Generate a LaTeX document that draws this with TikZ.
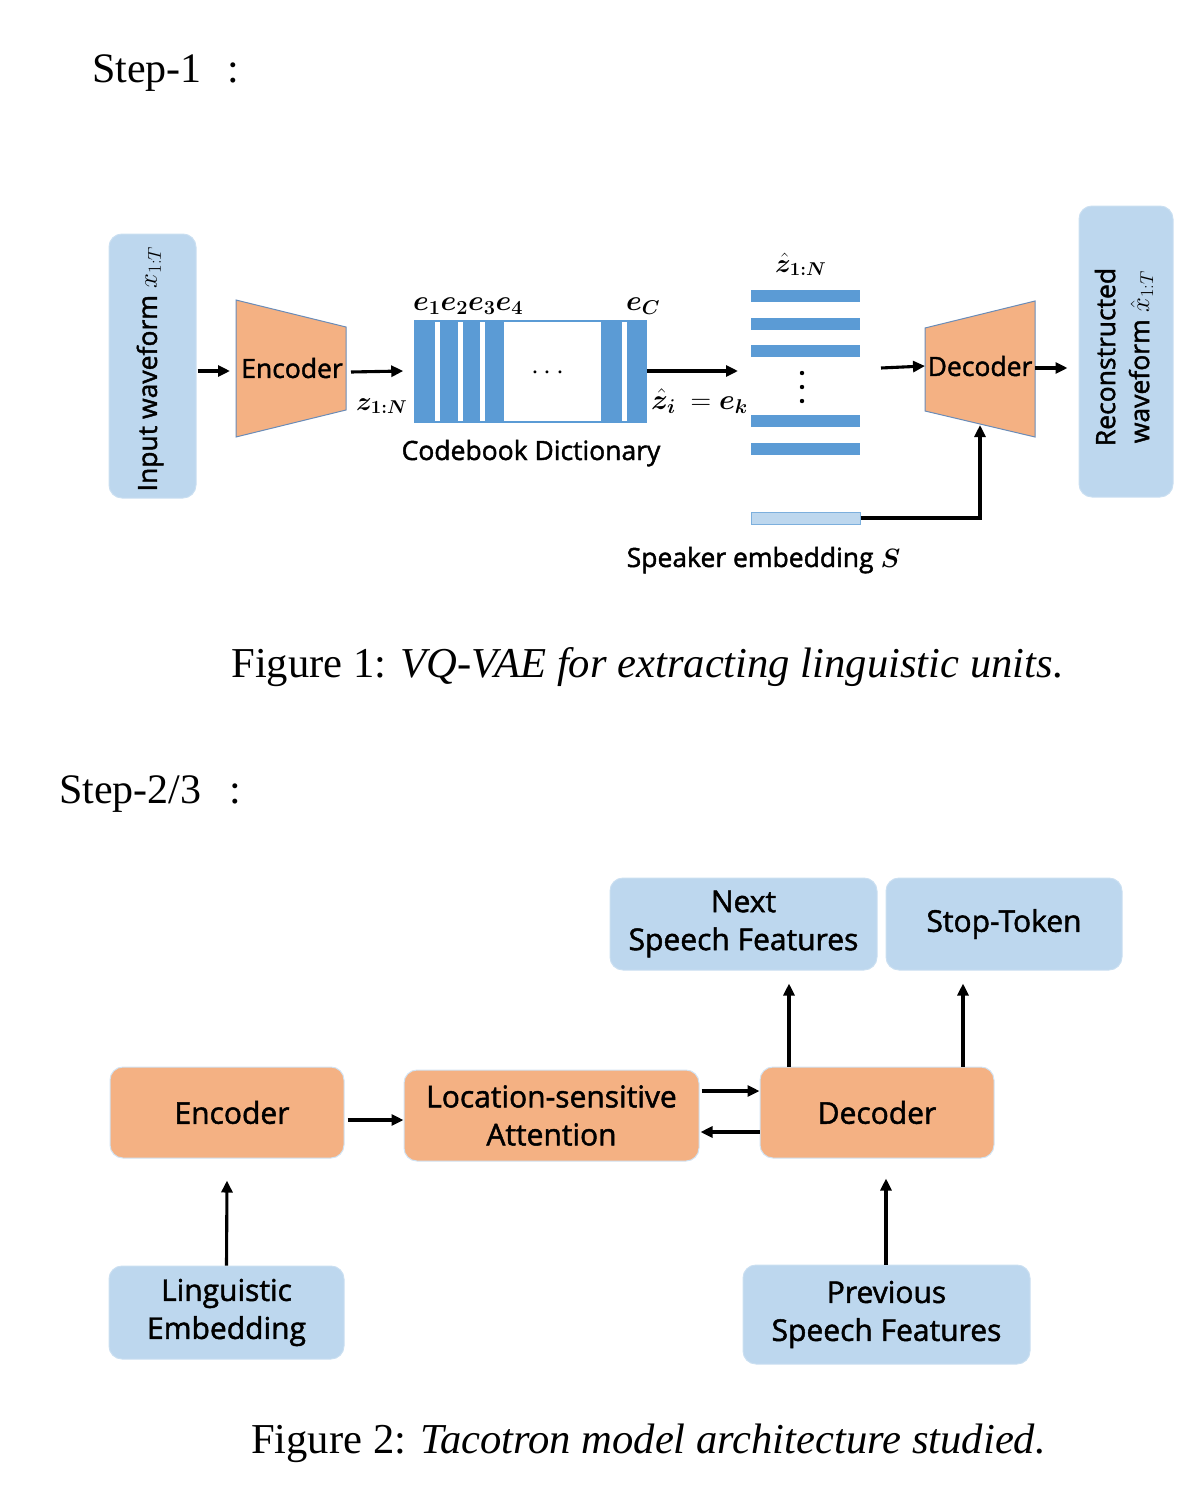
\RequirePackage{fix-cm}
\documentclass[tikz,border=0pt]{standalone}
\usepackage{amsmath}
\usepackage{bm}
\usepackage{fontspec}
\setmainfont{Liberation Serif}
\setsansfont{Open Sans}[FakeBold=1.6]
\usetikzlibrary{arrows.meta,calc}
\definecolor{lblue}{HTML}{BDD7EE}
\definecolor{orng}{HTML}{F4B183}
\definecolor{bblue}{HTML}{5B9BD5}
\definecolor{edgec}{HTML}{6A8CB8}
\begin{document}
\begin{tikzpicture}[x=1pt,y=-1pt,
  arr/.style={line width=3.1pt,-{Triangle[length=12pt,width=11pt]}},
  sfa/.style={font=\sffamily\fontsize{26.5}{32}\selectfont},
  sfb/.style={font=\sffamily\fontsize{30}{38}\selectfont},
  mth/.style={font=\fontsize{28.5}{32}\selectfont},
  mthb/.style={font=\fontsize{26.5}{30}\selectfont},
  serif/.style={font=\rmfamily\fontsize{42}{48}\selectfont},
  captext/.style={font=\rmfamily\fontsize{42.6}{48}\selectfont},
  bluebox/.style={rounded corners=13pt,fill=lblue,draw=lblue!80!white,line width=1pt,inner sep=0pt,align=center},
  orbox/.style={rounded corners=13pt,fill=orng,draw=lblue!70!white,line width=1pt,inner sep=0pt,align=center},
  trap/.style={fill=orng,draw=edgec,line width=1pt},
  bar/.style={fill=bblue,draw=none},
]
\useasboundingbox (0,0) rectangle (1198,1496);

% ---------- Step 1 ----------
\node[serif,anchor=base west,inner sep=0pt] (s1) at (92,82) {Step-1\hspace{26pt}:};

\node[bluebox,minimum width=87pt,minimum height=264pt] (inbox) at (152.5,366) {};
\node[sfa,rotate=90,inner sep=0pt] (intext) at (150,369) {Input waveform $x_{1:T}$};

\draw[trap] (236,300) -- (346,327) -- (346,410) -- (236,437) -- cycle;
\node[sfa,inner sep=0pt] (enc1) at (292,368) {Encoder};
\coordinate (encin) at (230,371);
\coordinate (encout) at (351,372);

% codebook
\node[draw=bblue,line width=1.5pt,fill=white,minimum width=231pt,minimum height=101pt,inner sep=0pt] (cb) at (530.5,371.5) {};
\fill[bar] (415,321) rectangle (434.5,422);
\fill[bar] (440,321) rectangle (458,422);
\fill[bar] (463,321) rectangle (480,422);
\fill[bar] (484.5,321) rectangle (503.5,422);
\fill[bar] (601,321) rectangle (622,422);
\fill[bar] (627,321) rectangle (646,422);
\node[mth,anchor=base,inner sep=0pt] (cdots) at (550,379) {$\cdots$};
\node[mth,anchor=base west,inner sep=0pt] (elab) at (413,310) {$\bm{e_1e_2e_3e_4}$};
\node[mth,anchor=base west,inner sep=0pt] (eC) at (626,310) {$\bm{e_C}$};
\node[sfa,anchor=base,inner sep=0pt] (cbtext) at (531,460) {Codebook Dictionary};
\node[mthb,anchor=base west,inner sep=0pt] (zlab) at (356,410) {$\bm{z_{1:N}}$};
\node[mth,anchor=base west,inner sep=0pt] (zilab) at (651,409) {$\bm{\hat{z}_i}\ =\bm{e_k}$};

% z-hat stack
\coordinate (zin) at (738,371);
\coordinate (zout) at (881,368);
\fill[bar] (751,290) rectangle (860,302);
\fill[bar] (751,318) rectangle (860,330);
\fill[bar] (751,345) rectangle (860,357);
\fill[bar] (751,415) rectangle (860,427);
\fill[bar] (751,443) rectangle (860,455);
\fill (802,373) circle (2.2pt) (802,387) circle (2.2pt) (802,401) circle (2.2pt);
\node[mthb,anchor=base west,inner sep=0pt] (zhlab) at (775,272) {$\bm{\hat{z}_{1:N}}$};
\node[fill=lblue,draw=bblue!80!white,line width=1pt,minimum width=109pt,minimum height=12pt,inner sep=0pt] (spk) at (805.5,518) {};
\node[sfa,anchor=base,inner sep=0pt] (spktext) at (763.5,567) {Speaker embedding $\bm{S}$};

% decoder
\draw[trap] (925,328) -- (1035,301) -- (1035,437) -- (925,411) -- cycle;
\node[sfa,inner sep=0pt] (dec1) at (980,366) {Decoder};
\coordinate (decin) at (925,366);
\coordinate (decout) at (1035,368);
\coordinate (decbot) at (980,425);

\node[bluebox,minimum width=94pt,minimum height=291pt] (recbox) at (1126,351.5) {};
\node[sfa,rotate=90,inner sep=0pt,align=center] (rectext) at (1124,357) {Reconstructed\\[2pt]waveform $\hat{x}_{1:T}$};

\draw[arr] ($(inbox.east)+(1,5)$) -- (encin);
\draw[arr] (encout) -- ($(cb.west)+(-11,-0.5)$);
\draw[arr] ($(cb.east)+(0,-0.5)$) -- (zin);
\draw[arr] (zout) -- (decin);
\draw[arr] (decout) -- ($(recbox.west)+(-11,16.5)$);
\draw[arr] (spk.east) -| (decbot);

\node[captext,anchor=base,inner sep=0pt] (cap1) at (647.5,677) {Figure 1: \textit{VQ-VAE for extracting linguistic units.}};

% ---------- Step 2/3 ----------
\node[serif,anchor=base west,inner sep=0pt] (s2) at (59,803) {Step-2/3\hspace{28pt}:};

\node[bluebox,sfb,minimum width=267pt,minimum height=92pt] (nsf) at (743.5,924) {Next\\Speech Features};
\node[bluebox,sfb,minimum width=236pt,minimum height=92pt] (stop) at (1004,924) {Stop-Token};
\node[orbox,sfb,minimum width=234pt,minimum height=91pt] (enc2) at (227,1112.5) {\hspace*{10pt}Encoder};
\node[orbox,sfb,minimum width=295pt,minimum height=91pt] (att) at (551.5,1115.5) {Location-sensitive\\Attention};
\node[orbox,sfb,minimum width=234pt,minimum height=91pt] (dec2) at (877,1112.5) {Decoder};
\node[bluebox,sfb,minimum width=235pt,minimum height=93pt] (ling) at (226.5,1312.5) {Linguistic\\Embedding};
\node[bluebox,sfb,minimum width=287pt,minimum height=99pt] (prev) at (886.5,1314.5) {Previous\\Speech Features};

\draw[arr] ($(enc2.east)+(3,7.5)$) -- ($(att.west)+(0,4.5)$);
\draw[arr] ($(att.east)+(2,-24.5)$) -- ($(dec2.west)+(0,-21.5)$);
\draw[arr] ($(dec2.west)+(0,19.5)$) -- ($(att.east)+(1,16.5)$);
\draw[arr] ($(dec2.north)+(-88,0)$) -- ($(nsf.south)+(45.5,13)$);
\draw[arr] ($(dec2.north)+(86,0)$) -- ($(stop.south)+(-41,13)$);
\draw[arr] (ling.north) -- ($(enc2.south)+(0,22)$);
\draw[arr] ($(prev.north)+(-0.5,0)$) -- ($(dec2.south)+(9,20)$);

\node[captext,anchor=base,inner sep=0pt] (cap2) at (648.5,1453) {Figure 2: \textit{Tacotron model architecture studied.}};
\end{tikzpicture}
\end{document}
